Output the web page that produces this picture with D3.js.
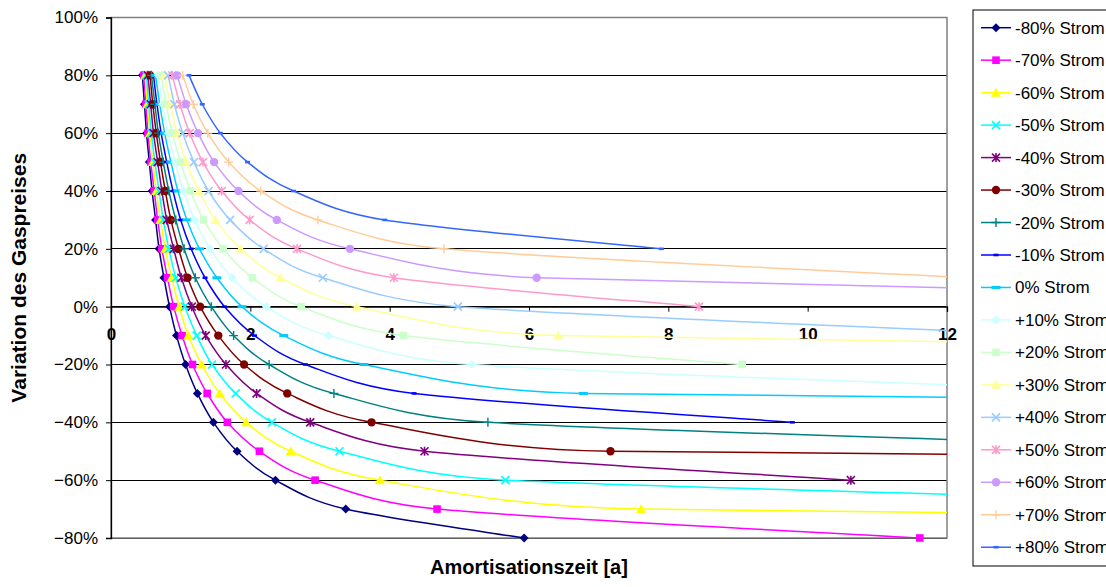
<!DOCTYPE html>
<html><head><meta charset="utf-8">
<script src="https://cdn.jsdelivr.net/npm/d3@7"></script>
<style>body{margin:0;background:#fff;} svg{display:block;font-family:Arial,"Liberation Sans",sans-serif;}</style>
</head><body><svg id="c" width="1106" height="587"></svg>
<script>
// ---- data ----
const gasVariation = [0.8,0.7,0.6,0.5,0.4,0.3,0.2,0.1,0,-0.1,-0.2,-0.3,-0.4,-0.5,-0.6,-0.7,-0.8];
const seriesNames = ["-80% Strom","-70% Strom","-60% Strom","-50% Strom","-40% Strom","-30% Strom","-20% Strom","-10% Strom","0% Strom",
  "+10% Strom","+20% Strom","+30% Strom","+40% Strom","+50% Strom","+60% Strom","+70% Strom","+80% Strom"];
// Amortisationszeit [a] per gas price variation (80% down to -80%)
const strom_m80 = [0.45,0.48,0.51,0.55,0.59,0.64,0.69,0.76,0.84,0.94,1.07,1.24,1.47,1.81,2.36,3.37,5.93];
const strom_m70 = [0.47,0.50,0.53,0.57,0.62,0.67,0.73,0.81,0.90,1.02,1.17,1.38,1.67,2.13,2.93,4.68,11.61];
const strom_m60 = [0.49,0.52,0.56,0.60,0.65,0.71,0.78,0.87,0.98,1.11,1.30,1.56,1.94,2.58,3.86,7.61,50];
const strom_m50 = [0.51,0.54,0.58,0.63,0.69,0.75,0.83,0.93,1.06,1.23,1.45,1.79,2.31,3.28,5.66,20.4];
const strom_m40 = [0.53,0.57,0.61,0.67,0.73,0.80,0.90,1.01,1.16,1.36,1.65,2.09,2.86,4.50,10.62];
const strom_m30 = [0.56,0.60,0.65,0.71,0.78,0.86,0.97,1.10,1.28,1.54,1.91,2.53,3.74,7.17,60];
const strom_m20 = [0.58,0.63,0.68,0.75,0.83,0.93,1.05,1.21,1.44,1.76,2.27,3.20,5.41,17.5];
const strom_m10 = [0.61,0.66,0.72,0.80,0.89,1.00,1.15,1.35,1.63,2.06,2.79,4.35,9.78];
const strom_0   = [0.64,0.70,0.77,0.86,0.96,1.09,1.27,1.52,1.88,2.48,3.63,6.78,50];
const strom_p10 = [0.68,0.74,0.82,0.92,1.04,1.20,1.42,1.74,2.23,3.12,5.18,15.4];
const strom_p20 = [0.72,0.79,0.88,1.00,1.14,1.33,1.61,2.03,2.73,4.20,9.06];
const strom_p30 = [0.77,0.85,0.95,1.08,1.26,1.50,1.86,2.43,3.53,6.42,36];
const strom_p40 = [0.82,0.91,1.03,1.19,1.40,1.71,2.19,3.04,4.98,13.7];
const strom_p50 = [0.88,0.99,1.13,1.32,1.59,1.99,2.67,4.06,8.44];
const strom_p60 = [0.95,1.08,1.25,1.48,1.83,2.38,3.43,6.11,25];
const strom_p70 = [1.03,1.18,1.39,1.69,2.15,2.97,4.78,12.3];
const strom_p80 = [1.12,1.31,1.57,1.96,2.62,3.93,7.90];
const xTicks = [0,2,4,6,8,10,12];
const yTicks = [-0.8,-0.6,-0.4,-0.2,0,0.2,0.4,0.6,0.8,1.0];
const xTitle = "Amortisationszeit [a]";
const yTitle = "Variation des Gaspreises";

// ---- styles ----
const seriesData = [strom_m80,strom_m70,strom_m60,strom_m50,strom_m40,strom_m30,strom_m20,strom_m10,strom_0,
  strom_p10,strom_p20,strom_p30,strom_p40,strom_p50,strom_p60,strom_p70,strom_p80];
const colors = ["#000080","#FF00FF","#FFFF00","#00FFFF","#800080","#800000","#008080","#0000FF","#00CCFF",
  "#CCFFFF","#CCFFCC","#FFFF99","#99CCFF","#FF99CC","#CC99FF","#FFCC99","#3366FF"];
const markerTypes = ["diamond","square","triangle","x","star","circle","plus","dot","dash",
  "diamond","square","triangle","x","star","circle","plus","dot"];

const svg = d3.select("#c");
const L = 111, R = 947, T = 17.5, B = 538;
const x = d3.scaleLinear().domain([0,12]).range([L,R]);
const y = d3.scaleLinear().domain([-0.8,1.0]).range([B,T]);

// Excel-like smoothed line: Bezier with 1/6 tangents, capped at half the segment length
function ExcelCurve(context) { this._context = context; }
ExcelCurve.prototype = {
  areaStart() {}, areaEnd() {},
  lineStart() { this._pts = []; },
  point(px, py) { this._pts.push([+px, +py]); },
  lineEnd() {
    const p = this._pts, n = p.length, c = this._context;
    if (!n) return;
    c.moveTo(p[0][0], p[0][1]);
    for (let i = 0; i < n - 1; i++) {
      const p0 = p[Math.max(i - 1, 0)], p1 = p[i], p2 = p[i + 1], p3 = p[Math.min(i + 2, n - 1)];
      const d12 = Math.hypot(p2[0] - p1[0], p2[1] - p1[1]);
      const d02 = Math.hypot(p2[0] - p0[0], p2[1] - p0[1]);
      const d13 = Math.hypot(p3[0] - p1[0], p3[1] - p1[1]);
      let k1 = 1 / 6, k2 = 1 / 6;
      if (d02 * k1 > d12 / 2) k1 = d12 / 2 / d02;
      if (d13 * k2 > d12 / 2) k2 = d12 / 2 / d13;
      c.bezierCurveTo(p1[0] + (p2[0] - p0[0]) * k1, p1[1] + (p2[1] - p0[1]) * k1,
                      p2[0] - (p3[0] - p1[0]) * k2, p2[1] - (p3[1] - p1[1]) * k2, p2[0], p2[1]);
    }
  }
};
const excelCurve = ctx => new ExcelCurve(ctx);

// gridlines
svg.append("g").selectAll("line").data(yTicks.filter(v => v < 0.99)).join("line")
  .attr("x1", L).attr("x2", R).attr("y1", d => y(d)).attr("y2", d => y(d))
  .attr("stroke", "#000").attr("stroke-width", 1).attr("shape-rendering","crispEdges");

// plot border
svg.append("rect").attr("x", L).attr("y", T).attr("width", R - L).attr("height", B - T)
  .attr("fill","none").attr("stroke","#808080").attr("stroke-width",1.5);

// y axis
const yAxis = d3.axisLeft(y).tickValues(yTicks).tickSize(5).tickFormat(d3.format(".0%"));
const gy = svg.append("g").attr("transform", `translate(${L},0)`).call(yAxis);
gy.select(".domain").attr("stroke","#000").attr("stroke-width",1.3);
gy.selectAll(".tick line").attr("stroke","#000");
gy.selectAll(".tick text").attr("font-size","17px").attr("font-family","Arial, 'Liberation Sans', sans-serif").attr("fill","#000").attr("x",-13);

// x axis at 0%
const xAxis = d3.axisBottom(x).tickValues(xTicks).tickSize(5).tickFormat(d3.format("d"));
const gx = svg.append("g").attr("transform", `translate(0,${y(0)})`).call(xAxis);
gx.select(".domain").attr("stroke","#000").attr("stroke-width",1.3);
gx.selectAll(".tick line").attr("stroke","#000");
gx.selectAll(".tick text").attr("font-size","17px").attr("font-weight","bold").attr("font-family","Arial, 'Liberation Sans', sans-serif").attr("fill","#000").attr("y",21);

// clip
svg.append("clipPath").attr("id","clip").append("rect").attr("x", L).attr("y", T - 8).attr("width", R - L).attr("height", B - T + 16);
svg.append("clipPath").attr("id","clipL").append("rect").attr("x", L).attr("y", T).attr("width", R - L).attr("height", B - T);

function drawMarker(g, type, color) {
  switch (type) {
    case "diamond": g.append("path").attr("d","M0,-4.5L4.5,0L0,4.5L-4.5,0Z").attr("fill",color); break;
    case "square": g.append("rect").attr("x",-3.8).attr("y",-3.8).attr("width",7.6).attr("height",7.6).attr("fill",color); break;
    case "triangle": g.append("path").attr("d","M0,-5L5,4L-5,4Z").attr("fill",color); break;
    case "x": g.append("path").attr("d","M-4,-4L4,4M-4,4L4,-4").attr("stroke",color).attr("stroke-width",1.6).attr("fill","none"); break;
    case "star": g.append("path").attr("d","M-4,-4L4,4M-4,4L4,-4M0,-4.5L0,4.5").attr("stroke",color).attr("stroke-width",1.6).attr("fill","none"); break;
    case "circle": g.append("circle").attr("r",4.2).attr("fill",color); break;
    case "plus": g.append("path").attr("d","M-4.5,0L4.5,0M0,-4.5L0,4.5").attr("stroke",color).attr("stroke-width",1.4).attr("fill","none"); break;
    case "dot": g.append("rect").attr("x",-2.5).attr("y",-1.3).attr("width",5).attr("height",2.6).attr("fill",color); break;
    case "dash": g.append("rect").attr("x",-4.5).attr("y",-1.5).attr("width",9).attr("height",3).attr("fill",color); break;
  }
}

const line = d3.line().x(d => x(d[0])).y(d => y(d[1])).curve(excelCurve);
const plot = svg.append("g");
seriesData.forEach((vals, i) => {
  const pts = vals.map((v, j) => [v, gasVariation[j]]);
  const sg = plot.append("g");
  sg.append("path").attr("d", line(pts)).attr("fill","none").attr("stroke", colors[i]).attr("stroke-width",1.5)
    .attr("clip-path","url(#clipL)");
  const mg = sg.append("g").attr("clip-path","url(#clip)");
  pts.filter(p => p[0] <= 12).forEach(p => {
    const m = mg.append("g").attr("transform", `translate(${x(p[0])},${y(p[1])})`);
    drawMarker(m, markerTypes[i], colors[i]);
  });
});

// axis titles
svg.append("text").attr("x", (L + R) / 2).attr("y", 574).attr("text-anchor","middle")
  .attr("font-size","20px").attr("font-weight","bold").text(xTitle);
svg.append("text").attr("transform", `translate(26,${(T + B) / 2}) rotate(-90)`).attr("text-anchor","middle")
  .attr("font-size","21px").attr("font-weight","bold").text(yTitle);

// legend
const lg = svg.append("g");
lg.append("rect").attr("x",973).attr("y",10).attr("width",150).attr("height",556).attr("fill","#fff").attr("stroke","#000").attr("stroke-width",1);
seriesNames.forEach((name, i) => {
  const yy = 27.7 + 32.47 * i;
  lg.append("line").attr("x1",981).attr("x2",1011).attr("y1",yy).attr("y2",yy).attr("stroke",colors[i]).attr("stroke-width",1.5);
  const m = lg.append("g").attr("transform", `translate(996,${yy})`);
  drawMarker(m, markerTypes[i], colors[i]);
  lg.append("text").attr("x",1015).attr("y",yy + 6).attr("font-size","17px").attr("fill","#000").text(name);
});
</script></body></html>
